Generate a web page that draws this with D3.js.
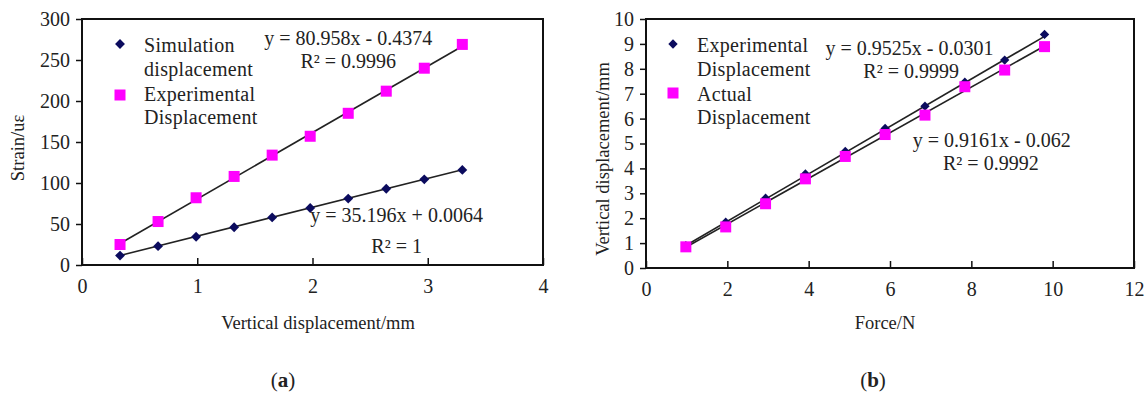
<!DOCTYPE html>
<html>
<head>
<meta charset="utf-8">
<script src="https://cdn.jsdelivr.net/npm/d3@7"></script>
<style>
	html, body { margin: 0; padding: 0; background: #fff; }
	svg { display: block; }
	text { font-family: 'Liberation Serif', 'Times New Roman', serif; fill: #222; }
</style>
</head>
<body>
<div id="chart"></div>
<script>
// panel (a): strain vs vertical displacement
const dispA = [0.33, 0.66, 0.99, 1.32, 1.65, 1.98, 2.31, 2.64, 2.97, 3.3];
const simStrain = [11.5, 23, 34.5, 46, 58, 69.5, 81, 93, 104.5, 116];
const expStrain = [25, 53, 82, 108, 134, 157, 185, 212, 240, 269];
const fitA = [
	{ slope: 35.196, intercept: 0.0064 },
	{ slope: 80.958, intercept: -0.4374 }
];
const eqA = ['y = 35.196x + 0.0064', 'y = 80.958x - 0.4374'];
const r2A = ['R² = 1', 'R² = 0.9996'];
const legendA = [['Simulation', 'displacement'], ['Experimental', 'Displacement']];
const xTicksA = [0, 1, 2, 3, 4];
const yTicksA = [0, 50, 100, 150, 200, 250, 300];

// panel (b): vertical displacement vs force
const forceB = [0.98, 1.96, 2.94, 3.92, 4.9, 5.88, 6.86, 7.84, 8.82, 9.8];
const expDispB = [0.9, 1.84, 2.8, 3.78, 4.68, 5.6, 6.5, 7.46, 8.35, 9.38];
const actDispB = [0.85, 1.65, 2.58, 3.58, 4.48, 5.36, 6.14, 7.28, 7.95, 8.89];
const fitB = [
	{ slope: 0.9525, intercept: -0.0301 },
	{ slope: 0.9161, intercept: -0.062 }
];
const eqB = ['y = 0.9525x - 0.0301', 'y = 0.9161x - 0.062'];
const r2B = ['R² = 0.9999', 'R² = 0.9992'];
const legendB = [['Experimental', 'Displacement'], ['Actual', 'Displacement']];
const xTicksB = [0, 2, 4, 6, 8, 10, 12];
const yTicksB = [0, 1, 2, 3, 4, 5, 6, 7, 8, 9, 10];

const width = 1148;
const height = 394;
const navy = '#0b0b5e';
const pink = '#ff00ff';

const svg = d3
	.select('#chart')
	.append('svg')
	.attr('width', width)
	.attr('height', height);

const drawPanel = (p) => {
	const x = d3.scaleLinear().domain(p.xDomain).range([p.left, p.right]);
	const y = d3.scaleLinear().domain(p.yDomain).range([p.bottom, p.top]);
	const g = svg.append('g');

	// axes: x ticks point into the plot, y ticks point out
	const xAxis = d3
		.axisBottom(x)
		.tickValues(p.xTicks)
		.tickFormat(d3.format('d'))
		.tickSizeInner(-7)
		.tickSizeOuter(0)
		.tickPadding(14);
	const yAxis = d3
		.axisLeft(y)
		.tickValues(p.yTicks)
		.tickFormat(d3.format('d'))
		.tickSizeInner(6)
		.tickSizeOuter(0)
		.tickPadding(6);

	const gx = g.append('g').attr('transform', `translate(0,${p.bottom})`).call(xAxis);
	const gy = g.append('g').attr('transform', `translate(${p.left},0)`).call(yAxis);
	[gx, gy].forEach((a) => {
		a.select('.domain').remove();
		a.selectAll('line').attr('stroke', '#111').attr('stroke-width', 1.5);
		a.selectAll('text').attr('font-size', 20).attr('fill', '#222')
			.style('font-family', "'Liberation Serif', serif");
	});

	// frame
	g.append('rect')
		.attr('x', p.left)
		.attr('y', p.top)
		.attr('width', p.right - p.left)
		.attr('height', p.bottom - p.top)
		.attr('fill', 'none')
		.attr('stroke', '#111')
		.attr('stroke-width', 2);

	// trendlines over the data range
	p.fits.forEach((f) => {
		const xs = d3.extent(p.xs);
		g.append('line')
			.attr('x1', x(xs[0]))
			.attr('y1', y(f.slope * xs[0] + f.intercept))
			.attr('x2', x(xs[1]))
			.attr('y2', y(f.slope * xs[1] + f.intercept))
			.attr('stroke', '#222')
			.attr('stroke-width', 1.6);
	});

	// markers: series 0 diamonds, series 1 squares
	const diamond = d3.symbol().type(d3.symbolDiamond2).size(p.diamondSize);
	g.selectAll('.pt-sq')
		.data(p.xs.map((v, i) => [v, p.ys[1][i]]))
		.enter()
		.append('rect')
		.attr('class', 'pt-sq')
		.attr('x', (d) => x(d[0]) - p.sq / 2)
		.attr('y', (d) => y(d[1]) - p.sq / 2)
		.attr('width', p.sq)
		.attr('height', p.sq)
		.attr('fill', pink);
	g.selectAll('.pt-di')
		.data(p.xs.map((v, i) => [v, p.ys[0][i]]))
		.enter()
		.append('path')
		.attr('class', 'pt-di')
		.attr('d', diamond)
		.attr('transform', (d) => `translate(${x(d[0])},${y(d[1])})`)
		.attr('fill', navy);
	if (p.squaresOnTop) g.selectAll('.pt-sq').raise();

	// equations
	p.eqs.forEach((e, i) => {
		const a = p.eqPos[i];
		g.append('text')
			.attr('x', x(a[0]))
			.attr('y', y(a[1]))
			.attr('text-anchor', 'middle')
			.attr('font-size', 20)
			.text(e);
		g.append('text')
			.attr('x', x(a[2]))
			.attr('y', y(a[3]))
			.attr('text-anchor', 'middle')
			.attr('font-size', 20)
			.text(p.r2[i]);
	});

	// legend
	const lx = p.left + p.legend.dx;
	const ly = p.top + p.legend.dy;
	g.append('path')
		.attr('d', diamond)
		.attr('transform', `translate(${lx},${ly})`)
		.attr('fill', navy);
	g.append('rect')
		.attr('x', lx - p.sq / 2)
		.attr('y', ly + p.legend.gap - p.sq / 2)
		.attr('width', p.sq)
		.attr('height', p.sq)
		.attr('fill', pink);
	p.legendText.forEach((lines, i) => {
		lines.forEach((t, j) => {
			g.append('text')
				.attr('x', lx + p.legend.tx)
				.attr('y', ly + 8 + i * 48.5 + j * 23.5)
				.attr('font-size', 20)
				.attr('letter-spacing', 0.3)
				.text(t);
		});
	});

	// axis titles
	g.append('text')
		.attr('x', p.xTitlePos[0])
		.attr('y', p.xTitlePos[1])
		.attr('text-anchor', 'middle')
		.attr('font-size', 18.5)
		.text(p.xTitle);
	g.append('text')
		.attr('transform', `translate(${p.yTitlePos[0]},${p.yTitlePos[1]}) rotate(-90)`)
		.attr('text-anchor', 'middle')
		.attr('font-size', 18.5)
		.text(p.yTitle);

	// caption
	const cap = g.append('text')
		.attr('x', p.caption[0])
		.attr('y', 387)
		.attr('text-anchor', 'middle')
		.attr('font-size', 21);
	cap.append('tspan').text('(');
	cap.append('tspan').attr('font-weight', 'bold').text(p.caption[1]);
	cap.append('tspan').text(')');
};

drawPanel({
	left: 82, right: 543, top: 19, bottom: 265,
	xDomain: [0, 4], yDomain: [0, 300],
	xTicks: xTicksA, yTicks: yTicksA,
	xs: dispA, ys: [simStrain, expStrain], fits: fitA,
	eqs: eqA, r2: r2A,
	eqPos: [[2.73, 52.4, 2.73, 14.6], [2.31, 268, 2.31, 240]],
	legendText: legendA,
	legend: { dx: 38, dy: 25, gap: 51, tx: 24 },
	sq: 11, diamondSize: 62,
	squaresOnTop: false,
	xTitle: 'Vertical displacement/mm', xTitlePos: [318, 329],
	yTitle: 'Strain/uε', yTitlePos: [24, 148],
	caption: [283, 'a']
});

drawPanel({
	left: 646, right: 1134, top: 19, bottom: 268,
	xDomain: [0, 12], yDomain: [0, 10],
	xTicks: xTicksB, yTicks: yTicksB,
	xs: forceB, ys: [expDispB, actDispB], fits: fitB,
	eqs: eqB, r2: r2B,
	eqPos: [[6.48, 8.55, 6.52, 7.63], [8.5, 4.86, 8.48, 3.94]],
	legendText: legendB,
	legend: { dx: 27, dy: 25, gap: 49, tx: 24 },
	sq: 11, diamondSize: 56,
	squaresOnTop: true,
	xTitle: 'Force/N', xTitlePos: [885, 329],
	yTitle: 'Vertical displacement/mm', yTitlePos: [609, 159],
	caption: [873, 'b']
});
</script>
</body>
</html>
